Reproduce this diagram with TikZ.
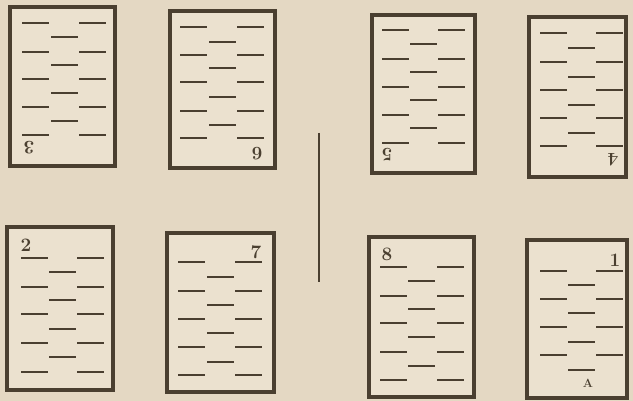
\documentclass[tikz,border=0pt]{standalone}
\tikzset{
  pagebox/.style={draw=ink, line width=3.8pt, fill=leaf},
  tick/.style={draw=ink, line width=2.8pt},
  folio/.style={text=ink, font=\fontsize{19}{19}\selectfont\bfseries, inner sep=0pt},
  upside/.style={folio, rotate=180},
  foldline/.style={draw=ink, line width=2.6pt}
}
\definecolor{paper}{HTML}{E4D8C3}
\definecolor{leaf}{HTML}{EBE1CF}
\definecolor{ink}{HTML}{4A3F30}
% #1 left x, #2 mid x, #3 right x, #4 dash length, #5 rows for left/right, #6 rows for middle
\newcommand{\leaflines}[6]{%
  \foreach \yy in {#5} {
    \draw[tick] (#1,\yy) -- ++(#4,0);
    \draw[tick] (#3,\yy) -- ++(#4,0);
  }
  \foreach \yy in {#6} {
    \draw[tick] (#2,\yy) -- ++(#4,0);
  }
}
\begin{document}
\begin{tikzpicture}[x=1pt,y=-1pt]
\useasboundingbox (0,0) rectangle (633,401);
\fill[paper] (0,0) rectangle (633,401);

% top row (upside-down pages)
\draw[pagebox] (10,7) rectangle (115,166);
\leaflines{22}{51}{79}{27}{23,52,79,107,135}{37,65,93,121}
\node[upside] (n3) at (29,148) {3};

\draw[pagebox] (170,11) rectangle (275,168);
\leaflines{180}{209}{237}{27}{27,55,82,111,138}{42,68,97,125}
\node[upside] (n6) at (257,154) {6};

\draw[pagebox] (372,15) rectangle (475,173);
\leaflines{382}{410}{438}{27}{30,59,87,115,143}{44,72,100,128}
\node[upside] (n5) at (387,155) {5};

\draw[pagebox] (529,17) rectangle (626,177);
\leaflines{540}{568}{596}{27}{33,62,90,118,146}{48,77,105,133}
\node[upside] (n4) at (613,160) {4};

% fold line
\coordinate (f1) at (319,133);
\coordinate (f2) at (319,282);
\draw[foldline] (f1) -- (f2);

% bottom row
\draw[pagebox] (7,227) rectangle (113,390);
\leaflines{21}{49}{77}{27}{258,287,314,343,372}{272,300,329,357}
\node[folio] (n2) at (26,245) {2};

\draw[pagebox] (167,233) rectangle (274,392);
\leaflines{178}{207}{235}{27}{262,291,319,347,375}{277,305,333,362}
\node[folio] (n7) at (256,252) {7};

\draw[pagebox] (369,237) rectangle (474,397);
\leaflines{380}{408}{437}{27}{267,296,323,352,380}{281,309,337,366}
\node[folio] (n8) at (387,254) {8};

\draw[pagebox] (527,240) rectangle (627,398);
\leaflines{540}{568}{596}{27}{271,299,327,355}{285,313,342,370}
\node[folio] (n1) at (615,260) {1};
\node[text=ink, font=\fontsize{12}{12}\selectfont\bfseries, inner sep=0pt] (sig) at (588,383) {A};
\end{tikzpicture}
\end{document}
